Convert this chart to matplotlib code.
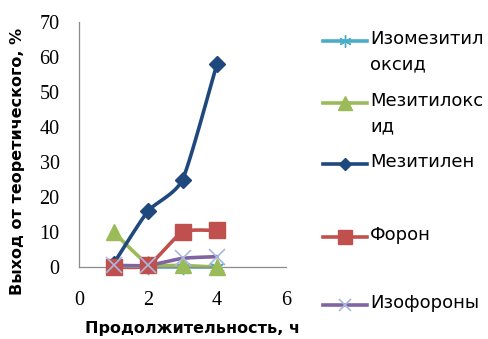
import numpy as np
import matplotlib
matplotlib.use("Agg")
import matplotlib.pyplot as plt
from matplotlib.lines import Line2D

hours = [1, 2, 3, 4]
izomezitiloksid = [0.0, 0.0, 0.0, 0.0]
mezitiloksid = [10.0, 1.0, 0.5, 0.0]
mezitilen = [1.0, 16.0, 25.0, 58.0]
foron = [0.0, 0.5, 10.0, 10.5]
izoforony = [0.5, 0.5, 2.5, 3.0]

series_names = ["Изомезитил\nоксид", "Мезитилокс\nид", "Мезитилен", "Форон", "Изофороны"]
x_ticks = [0, 2, 4, 6]
y_ticks = [0, 10, 20, 30, 40, 50, 60, 70]


def smooth(xs, ys, n=30):
    """Catmull-Rom curve through the given points (smoothed line look)."""
    xs = np.asarray(xs, float)
    ys = np.asarray(ys, float)
    px = np.concatenate([[2 * xs[0] - xs[1]], xs, [2 * xs[-1] - xs[-2]]])
    py = np.concatenate([[2 * ys[0] - ys[1]], ys, [2 * ys[-1] - ys[-2]]])
    ox, oy = [], []
    t = np.linspace(0, 1, n)
    for i in range(1, len(px) - 2):
        for arr, out in ((px, ox), (py, oy)):
            p0, p1, p2, p3 = arr[i - 1], arr[i], arr[i + 1], arr[i + 2]
            m1 = (p2 - p0) / 2 * 0.6
            m2 = (p3 - p1) / 2 * 0.6
            h00 = 2 * t**3 - 3 * t**2 + 1
            h10 = t**3 - 2 * t**2 + t
            h01 = -2 * t**3 + 3 * t**2
            h11 = t**3 - t**2
            out.extend(h00 * p1 + h10 * m1 + h01 * p2 + h11 * m2)
    return np.array(ox), np.array(oy)


styles = [
    dict(color="#4BACC6", marker=(6, 2, 0), ms=11, mec="#4BACC6", mfc="#4BACC6", mew=1.0),
    dict(color="#9BBB59", marker="^", ms=12, mec="#9BBB59", mfc="#9BBB59", mew=1.0),
    dict(color="#1F497D", marker="D", ms=8, mec="#1F497D", mfc="#1F497D", mew=1.0),
    dict(color="#C0504D", marker="s", ms=12, mec="#C0504D", mfc="#C0504D", mew=1.0),
    dict(color="#8064A2", marker="x", ms=11, mec="#A9B8E0", mfc="#A9B8E0", mew=1.2),
]
data = [izomezitiloksid, mezitiloksid, mezitilen, foron, izoforony]

fig = plt.figure(figsize=(4.88, 3.39), dpi=100)
ax = fig.add_axes([0.162, 0.212, 0.424, 0.723])

for i in range(len(data)):
    st = styles[i]
    sx, sy = smooth(hours, data[i])
    ax.plot(sx, sy, color=st["color"], lw=2.6, solid_capstyle="round",
            zorder=2 + i * 0.1, clip_on=False)
    ax.plot(hours, data[i], ls="none", marker=st["marker"], ms=st["ms"],
            mec=st["mec"], mfc=st["mfc"], mew=st["mew"], zorder=3 + i * 0.1,
            clip_on=False)

ax.set_xlim(0, 6)
ax.set_ylim(0, 70)
ax.set_xticks(x_ticks)
ax.set_yticks(y_ticks)
for s in ("top", "right"):
    ax.spines[s].set_visible(False)
for s in ("left", "bottom"):
    ax.spines[s].set_color("#8C8C8C")
    ax.spines[s].set_linewidth(0.9)
ax.tick_params(length=0, labelsize=14.5)
ax.tick_params(axis="x", pad=17)
ax.tick_params(axis="y", pad=14)
for lab in ax.get_xticklabels() + ax.get_yticklabels():
    lab.set_fontfamily("Liberation Serif")

ax.set_ylabel("Выход от теоретического, %", fontsize=11.5, fontweight="bold")
ax.yaxis.set_label_coords(-0.26, 0.43)
ax.set_xlabel("Продолжительность, ч", fontsize=11.5, fontweight="bold")
ax.xaxis.set_label_coords(0.55, -0.22)

# legend on the right
W, H = 488, 339
key_y = [41, 103, 164, 237, 305]
for i, (name, yk) in enumerate(zip(series_names, key_y)):
    st = styles[i]
    fy = 1 - yk / H
    fig.add_artist(Line2D([323 / W, 367 / W], [fy, fy], transform=fig.transFigure,
                          color=st["color"], lw=2.6))
    fig.add_artist(Line2D([345 / W], [fy], transform=fig.transFigure, ls="none",
                          marker=st["marker"], ms=st["ms"] * 0.8, mec=st["mec"],
                          mfc=st["mfc"], mew=st["mew"]))
    fig.text(370 / W, fy + 11 / H, name, fontsize=13, va="top", ha="left",
             linespacing=1.55)

fig.savefig("out.png", dpi=100)
